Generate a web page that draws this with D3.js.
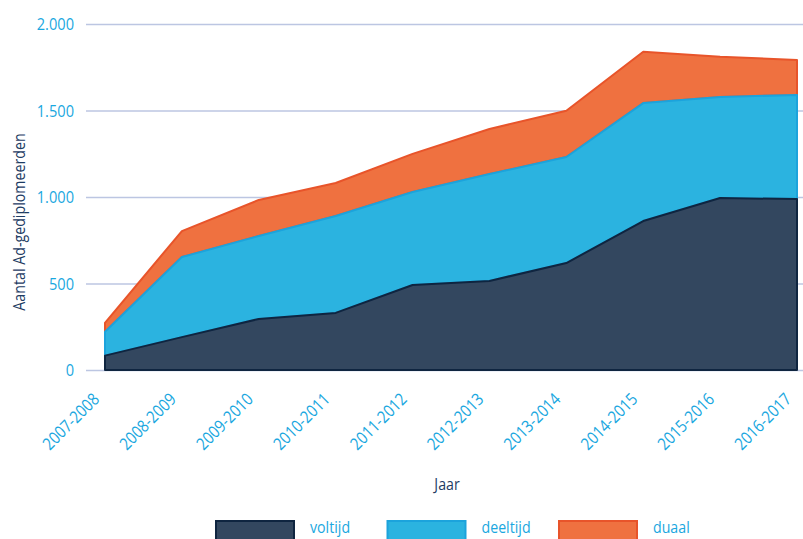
<!DOCTYPE html>
<html>
<head>
<meta charset="utf-8">
<script src="https://cdn.jsdelivr.net/npm/d3@7"></script>
<style>
  body { margin: 0; background: #fff; }
  svg { display: block; font-family: "Open Sans", sans-serif; }
</style>
</head>
<body>
<div id="chart"></div>
<script>
// data
var years = ["2007-2008", "2008-2009", "2009-2010", "2010-2011", "2011-2012",
             "2012-2013", "2013-2014", "2014-2015", "2015-2016", "2016-2017"];
var voltijd  = [83, 190, 295, 330, 491, 515, 618, 861, 994, 988];
var deeltijd = [138, 463, 480, 560, 538, 618, 613, 682, 584, 602];
var duaal    = [52, 150, 208, 191, 220, 260, 268, 297, 233, 202];
var yTicks = [0, 500, 1000, 1500, 2000];
var seriesNames = ["voltijd", "deeltijd", "duaal"];

var w = 803;
var h = 539;

var fills = { voltijd: "#33475f", deeltijd: "#2bb3e0", duaal: "#ef7140" };
var strokes = { voltijd: "#0f2540", deeltijd: "#1ca3dc", duaal: "#e8542a" };
var tickColor = "#1aa7e0";
var titleColor = "#1d3b63";
// the original font is a condensed one, so squeeze the text a little
var squeeze = " scale(0.86,1)";

var dataset = years.map(function(y, i) {
    return { year: y, voltijd: voltijd[i], deeltijd: deeltijd[i], duaal: duaal[i] };
});

var xScale = d3.scalePoint().domain(years).range([105, 797]);
var yScale = d3.scaleLinear().domain([0, 2000]).range([370, 24]);

var svg = d3.select("#chart").append("svg").attr("width", w).attr("height", h);

// gridlines
svg.append("g").selectAll("line")
    .data(yTicks)
    .enter()
    .append("line")
    .attr("x1", 86)
    .attr("x2", w)
    .attr("y1", function(d) { return yScale(d) + 0.5; })
    .attr("y2", function(d) { return yScale(d) + 0.5; })
    .attr("stroke", "#bcc6e2")
    .attr("stroke-width", 1.5);

// y tick labels
var fmt = function(d) { return d3.format(",")(d).replace(/,/g, "."); };
svg.append("g").selectAll("text")
    .data(yTicks)
    .enter()
    .append("text")
    .attr("transform", function(d) { return "translate(74," + yScale(d) + ")" + squeeze; })
    .attr("dy", "0.36em")
    .attr("text-anchor", "end")
    .attr("font-size", "17px")
    .attr("fill", tickColor)
    .text(fmt);

// stacked areas
var stack = d3.stack().keys(seriesNames);
var series = stack(dataset);

var area = d3.area()
    .x(function(d) { return xScale(d.data.year); })
    .y0(function(d) { return yScale(d[0]); })
    .y1(function(d) { return yScale(d[1]); });

svg.append("g").selectAll("path")
    .data(series.slice().reverse())
    .enter()
    .append("path")
    .attr("d", area)
    .attr("fill", function(d) { return fills[d.key]; })
    .attr("stroke", function(d) { return strokes[d.key]; })
    .attr("stroke-width", 2)
    .attr("stroke-linejoin", "round");

// x tick labels, rotated
svg.append("g").selectAll("text")
    .data(years)
    .enter()
    .append("text")
    .attr("transform", function(d) {
        return "translate(" + (xScale(d) - 9) + ",396) rotate(-45)" + squeeze;
    })
    .attr("text-anchor", "end")
    .attr("dy", "0.36em")
    .attr("font-size", "17px")
    .attr("fill", tickColor)
    .text(function(d) { return d; });

// axis titles
svg.append("text")
    .attr("transform", "translate(25,222) rotate(-90) scale(0.89,1)")
    .attr("text-anchor", "middle")
    .attr("font-size", "16px")
    .attr("fill", titleColor)
    .text("Aantal Ad-gediplomeerden");

svg.append("text")
    .attr("transform", "translate(447,490)" + squeeze)
    .attr("text-anchor", "middle")
    .attr("font-size", "16.5px")
    .attr("fill", titleColor)
    .text("Jaar");

// legend
var legend = svg.selectAll(".legend")
    .data(seriesNames)
    .enter()
    .append("g")
    .attr("class", "legend")
    .attr("transform", function(d, i) { return "translate(" + (216 + i * 171.5) + ",521)"; });

legend.append("rect")
    .attr("width", 78)
    .attr("height", 26)
    .attr("fill", function(d) { return fills[d]; })
    .attr("stroke", function(d) { return strokes[d]; })
    .attr("stroke-width", 2);

legend.append("text")
    .attr("transform", "translate(94,12)" + squeeze)
    .attr("font-size", "16.5px")
    .attr("fill", tickColor)
    .text(function(d) { return d; });
</script>
</body>
</html>
